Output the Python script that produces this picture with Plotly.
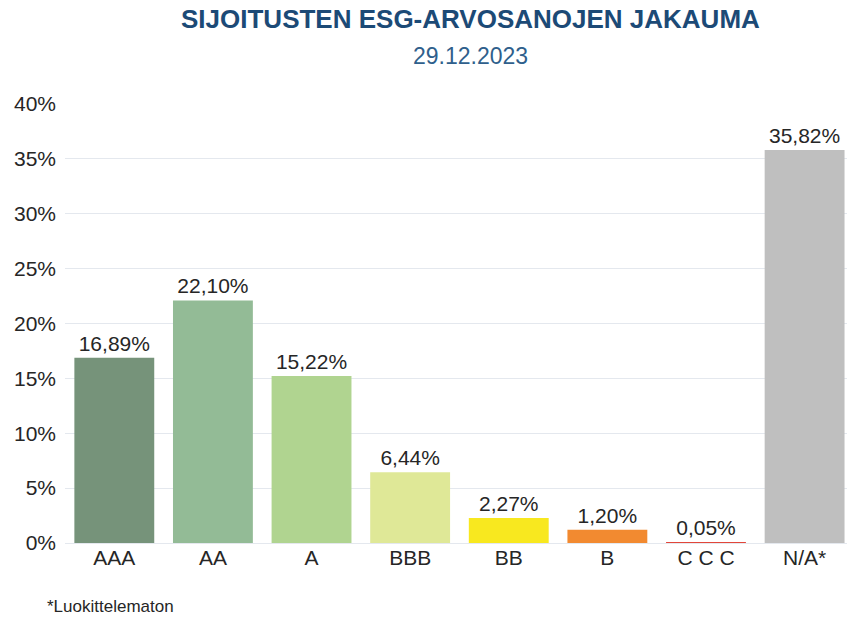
import plotly.graph_objects as go

# ESG rating distribution, 29.12.2023
categories = ["AAA", "AA", "A", "BBB", "BB", "B", "C C C", "N/A*"]
values = [16.89, 22.10, 15.22, 6.44, 2.27, 1.20, 0.05, 35.82]
value_labels = ["16,89%", "22,10%", "15,22%", "6,44%", "2,27%", "1,20%", "0,05%", "35,82%"]
bar_colors = ["#76937a", "#93bb96", "#b0d490", "#dfe897", "#f8e81f", "#f28a30", "#e2463a", "#bfbfbf"]
y_ticks = [0, 5, 10, 15, 20, 25, 30, 35, 40]

FONT = "Liberation Sans, Arial, sans-serif"

# the page body margin is removed (see post_script), so figure == window
W, H = 847, 619
ML, MT, MB = 65, 104, 76
PLOT_W = W - ML
PLOT_H = H - MT - MB


def px_x(x):
    """Screen x (pixels) -> paper coordinate."""
    return (x - ML) / PLOT_W


def px_y(y):
    """Screen y (pixels) -> paper coordinate."""
    return (H - MB - y) / PLOT_H


fig = go.Figure()

fig.add_trace(
    go.Bar(
        x=categories,
        y=values,
        marker=dict(color=bar_colors, line=dict(width=0)),
        text=value_labels,
        textposition="outside",
        textfont=dict(size=21, color="#262626", family=FONT),
        cliponaxis=False,
        hoverinfo="skip",
    )
)

fig.update_layout(
    width=W,
    height=H,
    plot_bgcolor="white",
    paper_bgcolor="white",
    showlegend=False,
    bargap=0.19,
    margin=dict(l=ML, r=0, t=MT, b=MB),
    font=dict(family=FONT, color="#262626"),
    xaxis=dict(
        range=[-0.5, 7.43],
        showgrid=False,
        showline=False,
        ticks="",
        tickfont=dict(size=21, color="#262626"),
    ),
    yaxis=dict(
        range=[0, 40],
        tickvals=y_ticks,
        ticktext=[f"{v}%" for v in y_ticks],
        tickfont=dict(size=21, color="#262626"),
        gridcolor="#e4e8ee",
        gridwidth=1,
        zeroline=True,
        zerolinecolor="#e4e8ee",
        zerolinewidth=1,
        ticks="",
        ticklabelstandoff=8,
    ),
)

for txt, cy, size, color in [
    ("<b>SIJOITUSTEN ESG-ARVOSANOJEN JAKAUMA</b>", 19, 26, "#1c4a76"),
    ("29.12.2023", 56, 23, "#2f5f8c"),
]:
    fig.add_annotation(
        text=txt,
        x=px_x(470), y=px_y(cy),
        xref="paper", yref="paper", xanchor="center", yanchor="middle",
        showarrow=False, borderpad=0, font=dict(size=size, color=color),
    )

fig.add_annotation(
    text="*Luokittelematon",
    x=px_x(45), y=px_y(606),
    xref="paper", yref="paper", xanchor="left", yanchor="middle",
    showarrow=False, font=dict(size=17, color="#262626"),
)

fig.write_html(
    "out.html",
    config={"displayModeBar": False},
    post_script="document.body.style.margin='0';",
)
